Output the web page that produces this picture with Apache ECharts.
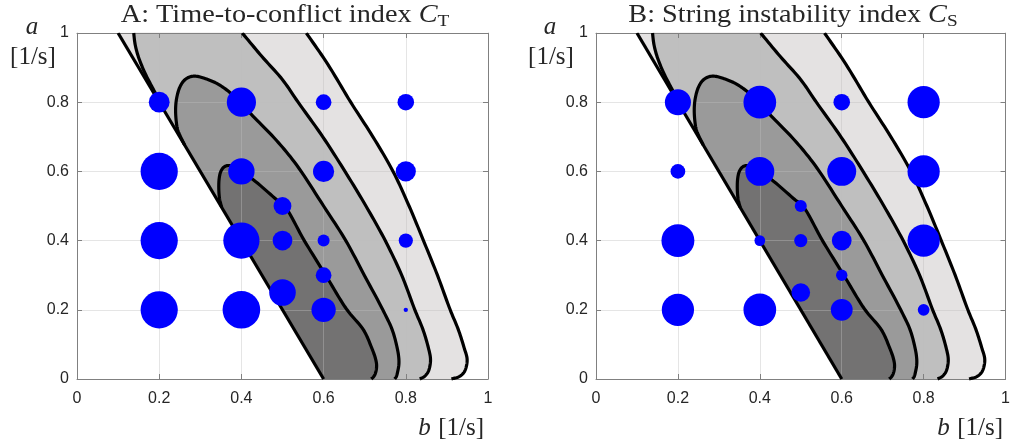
<!DOCTYPE html>
<html>
<head>
<meta charset="utf-8">
<script src="https://cdn.jsdelivr.net/npm/echarts@6/dist/echarts.min.js"></script>
<style>
  html, body { margin: 0; padding: 0; background: #ffffff; }
  #chart { width: 1013px; height: 446px; }
</style>
</head>
<body>
<div id="chart"></div>
<script>
// ---- tick labels (both axes, both panels) ----
const TICK_VALUES = [0, 0.2, 0.4, 0.6, 0.8, 1];
const TICK_LABELS = ['0', '0.2', '0.4', '0.6', '0.8', '1'];

// ---- contour boundaries in the (b, a) plane, points as [b, a] ----
// linear string-stability limit b = 0.6 - a/2
const STABILITY_LIMIT = [[0.1, 1], [0.6, 0]];
// outermost level (lightest band)
const LEVEL1_RIGHT = [[0.558, 1], [0.61, 0.91], [0.666, 0.8], [0.72, 0.7], [0.769, 0.6], [0.808, 0.5],
  [0.843, 0.4], [0.877, 0.3], [0.908, 0.2], [0.928, 0.142], [0.942, 0.09], [0.949, 0.06], [0.948, 0.04],
  [0.942, 0.02], [0.93, 0.007], [0.911, 0]];
// second level: left branch (meets the limit line) and right branch
const LEVEL2_LEFT = [[0.138, 1], [0.141, 0.97], [0.147, 0.94], [0.156, 0.91], [0.167, 0.88],
  [0.18, 0.85], [0.192, 0.823], [0.205, 0.79]];
const LEVEL2_RIGHT = [[0.402, 1], [0.45, 0.932], [0.5, 0.865], [0.538, 0.8], [0.598, 0.7], [0.652, 0.6],
  [0.703, 0.5], [0.75, 0.4], [0.79, 0.3], [0.822, 0.2], [0.842, 0.142], [0.855, 0.09], [0.86, 0.06],
  [0.859, 0.04], [0.854, 0.02], [0.845, 0.007], [0.834, 0]];
// third level: starts on the limit line, runs over the top and down to a = 0
const LEVEL3 = [[0.262, 0.676], [0.252, 0.7], [0.245, 0.72], [0.241, 0.75], [0.24, 0.785], [0.243, 0.815],
  [0.25, 0.843], [0.26, 0.862], [0.274, 0.873], [0.29, 0.875], [0.31, 0.869], [0.339, 0.855], [0.37, 0.83],
  [0.4, 0.795], [0.428, 0.76], [0.485, 0.69], [0.534, 0.619], [0.6, 0.5], [0.654, 0.4], [0.699, 0.3],
  [0.744, 0.2], [0.767, 0.142], [0.779, 0.09], [0.783, 0.06], [0.783, 0.04], [0.78, 0.02], [0.777, 0.007],
  [0.773, 0]];
// innermost level
const LEVEL4 = [[0.352, 0.496], [0.347, 0.52], [0.345, 0.55], [0.346, 0.58], [0.35, 0.6], [0.357, 0.612],
  [0.367, 0.617], [0.38, 0.614], [0.4, 0.6], [0.429, 0.576], [0.486, 0.518], [0.505, 0.5], [0.553, 0.4],
  [0.605, 0.3], [0.657, 0.2], [0.697, 0.142], [0.717, 0.09], [0.726, 0.06], [0.729, 0.04], [0.727, 0.02],
  [0.722, 0.007], [0.716, 0]];

// ---- simulated parameter sets ----
const SAMPLE_B = [0.2, 0.4, 0.6, 0.8, 0.2, 0.4, 0.6, 0.8, 0.5, 0.2, 0.4, 0.5, 0.6, 0.8, 0.6, 0.5, 0.2, 0.4, 0.6, 0.8];
const SAMPLE_A = [0.8, 0.8, 0.8, 0.8, 0.6, 0.6, 0.6, 0.6, 0.5, 0.4, 0.4, 0.4, 0.4, 0.4, 0.3, 0.25, 0.2, 0.2, 0.2, 0.2];
// normalised index values (marker area is proportional to the value)
const INDEX_CT = [0.30, 0.59, 0.17, 0.19, 0.96, 0.48, 0.31, 0.28, 0.22, 0.96, 0.91, 0.27, 0.10, 0.14, 0.17, 0.49,
  0.96, 0.98, 0.41, 0.013];
const INDEX_CS = [0.47, 0.74, 0.19, 0.72, 0.15, 0.58, 0.58, 0.72, 0.10, 0.75, 0.08, 0.12, 0.27, 0.72, 0.09, 0.24,
  0.72, 0.74, 0.33, 0.095];

// ---- styling ----
const LEVEL_COLORS = ['#e4e2e2', '#bfbfbf', '#9a9a9a', '#737272'];
const AXIS_COLOR = '#808080';
const GRID_COLOR = 'rgba(190,190,190,0.4)';
const OUTLINE_WIDTH = 3.2;
const MARKER_MAX = 38;
const SERIF = 'Liberation Serif';
const SANS = 'Liberation Sans';

// filled bands: curved pieces ('c') joined by corner points ('p') on the limit line / a = 0
const FILL_RINGS = [
  [['p', STABILITY_LIMIT[0]], ['c', LEVEL1_RIGHT], ['p', STABILITY_LIMIT[1]]],
  [['c', LEVEL2_LEFT], ['p', STABILITY_LIMIT[1]], ['c', LEVEL2_RIGHT.slice().reverse()]],
  [['c', LEVEL3], ['p', STABILITY_LIMIT[1]]],
  [['c', LEVEL4], ['p', STABILITY_LIMIT[1]]]
];
const CURVED_OUTLINES = [LEVEL1_RIGHT, LEVEL2_LEFT, LEVEL2_RIGHT, LEVEL3, LEVEL4];

const GRIDS = [
  { left: 77, top: 33, width: 411, height: 346 },
  { left: 596, top: 33, width: 410, height: 346 }
];

function tickLabel(v) {
  const i = TICK_VALUES.findIndex(t => Math.abs(t - v) < 1e-9);
  return i >= 0 ? TICK_LABELS[i] : '';
}

// centripetal Catmull-Rom through pixel points, for smooth drawing of the contour curves
function smoothPixels(pts, steps) {
  const n = pts.length;
  if (n < 3) return pts.slice();
  const ext = (a, b) => [2 * a[0] - b[0], 2 * a[1] - b[1]];
  const knot = (p, q) => Math.pow(Math.hypot(q[0] - p[0], q[1] - p[1]), 0.5) || 1e-4;
  const lerp = (p, q, tp, tq, t) => {
    const w = (t - tp) / (tq - tp);
    return [p[0] + (q[0] - p[0]) * w, p[1] + (q[1] - p[1]) * w];
  };
  const out = [pts[0]];
  for (let i = 0; i < n - 1; i++) {
    const p0 = i > 0 ? pts[i - 1] : ext(pts[0], pts[1]);
    const p1 = pts[i], p2 = pts[i + 1];
    const p3 = i + 2 < n ? pts[i + 2] : ext(pts[n - 1], pts[n - 2]);
    const t0 = 0, t1 = t0 + knot(p0, p1), t2 = t1 + knot(p1, p2), t3 = t2 + knot(p2, p3);
    for (let j = 1; j <= steps; j++) {
      const t = t1 + (t2 - t1) * j / steps;
      const a1 = lerp(p0, p1, t0, t1, t), a2 = lerp(p1, p2, t1, t2, t), a3 = lerp(p2, p3, t2, t3, t);
      const b1 = lerp(a1, a2, t0, t2, t), b2 = lerp(a2, a3, t1, t3, t);
      out.push(lerp(b1, b2, t1, t2, t));
    }
  }
  return out;
}

function axisPair(g, dim) {
  const base = {
    type: 'value', gridIndex: g, min: 0, max: 1, interval: 0.2, z: 2,
    axisLine: { show: true, onZero: false, lineStyle: { color: AXIS_COLOR, width: 1 } },
    axisTick: { show: true, inside: true, length: 5, lineStyle: { color: AXIS_COLOR, width: 1 } }
  };
  const main = Object.assign({}, base, {
    position: dim === 'x' ? 'bottom' : 'left',
    axisLabel: {
      show: true, formatter: tickLabel, color: '#262626', fontFamily: SANS, fontSize: 16,
      margin: dim === 'x' ? 12 : 8, showMinLabel: true, showMaxLabel: true
    },
    splitLine: { show: true, lineStyle: { color: GRID_COLOR, width: 1 } }
  });
  const mirror = Object.assign({}, base, {
    position: dim === 'x' ? 'top' : 'right',
    axisLabel: { show: false },
    splitLine: { show: false }
  });
  return [main, mirror];
}

function markerSeries(g, values) {
  return {
    type: 'scatter', xAxisIndex: g * 2, yAxisIndex: g * 2, z: 4, silent: true,
    data: SAMPLE_B.map((b, i) => [b, SAMPLE_A[i], values[i]]),
    symbol: 'circle',
    symbolSize: v => Math.sqrt(v[2]) * MARKER_MAX,
    itemStyle: { color: '#0000ff', opacity: 1 }
  };
}

function titleText(cx, lead, sub) {
  return {
    type: 'text', x: cx, y: 3, z: 10, scaleX: 1.13, silent: true,
    style: {
      text: '{r|' + lead + '}{i|C}{s|' + sub + '}',
      align: 'center', verticalAlign: 'top',
      rich: {
        r: { fontFamily: SERIF, fontSize: 25, fill: '#262626', verticalAlign: 'top', lineHeight: 26 },
        i: { fontFamily: SERIF, fontSize: 25, fontStyle: 'italic', fill: '#262626', verticalAlign: 'top', lineHeight: 26 },
        s: { fontFamily: SERIF, fontSize: 17, fill: '#262626', verticalAlign: 'top', padding: [10, 0, 0, 0] }
      }
    }
  };
}

function bLabel(rightX) {
  return {
    type: 'text', x: rightX, y: 428, z: 10, silent: true,
    style: {
      text: '{i|b} {r|[1/s]}', align: 'right', verticalAlign: 'middle',
      rich: {
        i: { fontFamily: SERIF, fontSize: 25, fontStyle: 'italic', fill: '#262626', padding: [0, 4, 0, 0] },
        r: { fontFamily: SERIF, fontSize: 25, fill: '#262626' }
      }
    }
  };
}

function aLabel(cx) {
  return [
    { type: 'text', x: cx, y: 27, z: 10, silent: true,
      style: { text: 'a', align: 'center', verticalAlign: 'middle', fontFamily: SERIF, fontSize: 25,
        fontStyle: 'italic', fill: '#262626' } },
    { type: 'text', x: cx + 1, y: 57, z: 10, silent: true,
      style: { text: '[1/s]', align: 'center', verticalAlign: 'middle', fontFamily: SERIF, fontSize: 25,
        fill: '#262626' } }
  ];
}

const textGraphics = [].concat(
  [titleText(285, 'A: Time-to-conflict index ', 'T'), titleText(793, 'B: String instability index ', 'S')],
  [bLabel(484), bLabel(1003)],
  aLabel(32), aLabel(550)
);

const chart = echarts.init(document.getElementById('chart'), null, { renderer: 'canvas' });
chart.setOption({
  animation: false,
  backgroundColor: '#ffffff',
  grid: GRIDS.map(g => Object.assign({ containLabel: false }, g)),
  xAxis: [].concat(axisPair(0, 'x'), axisPair(1, 'x')),
  yAxis: [].concat(axisPair(0, 'y'), axisPair(1, 'y')),
  series: [markerSeries(0, INDEX_CT), markerSeries(1, INDEX_CS)],
  graphic: textGraphics
});

// contour bands and their outlines, placed through each panel's axes
const contourGraphics = [];
GRIDS.forEach((g, gi) => {
  const finder = { xAxisIndex: gi * 2, yAxisIndex: gi * 2 };
  const toPx = p => chart.convertToPixel(finder, p);
  FILL_RINGS.forEach((ring, k) => {
    let pts = [];
    ring.forEach(([kind, val]) => {
      pts = pts.concat(kind === 'p' ? [toPx(val)] : smoothPixels(val.map(toPx), 10));
    });
    contourGraphics.push({
      type: 'polygon', z: 1, silent: true,
      shape: { points: pts },
      style: { fill: LEVEL_COLORS[k], stroke: LEVEL_COLORS[k], lineWidth: 0.6 }
    });
  });
  const outline = pts => ({
    type: 'polyline', z: 3, silent: true,
    shape: { points: pts },
    style: { fill: null, stroke: '#000000', lineWidth: OUTLINE_WIDTH, lineJoin: 'round', lineCap: 'butt' }
  });
  contourGraphics.push(outline(STABILITY_LIMIT.map(toPx)));
  CURVED_OUTLINES.forEach(path => contourGraphics.push(outline(smoothPixels(path.map(toPx), 10))));
  // keep strokes inside the plot frame: white mask just above each panel
  contourGraphics.push({
    type: 'rect', z: 3.5, silent: true,
    shape: { x: g.left - 2, y: g.top - 8, width: g.width + 4, height: 7.5 },
    style: { fill: '#ffffff' }
  });
});
chart.setOption({ graphic: textGraphics.concat(contourGraphics) }, { replaceMerge: ['graphic'] });
</script>
</body>
</html>
